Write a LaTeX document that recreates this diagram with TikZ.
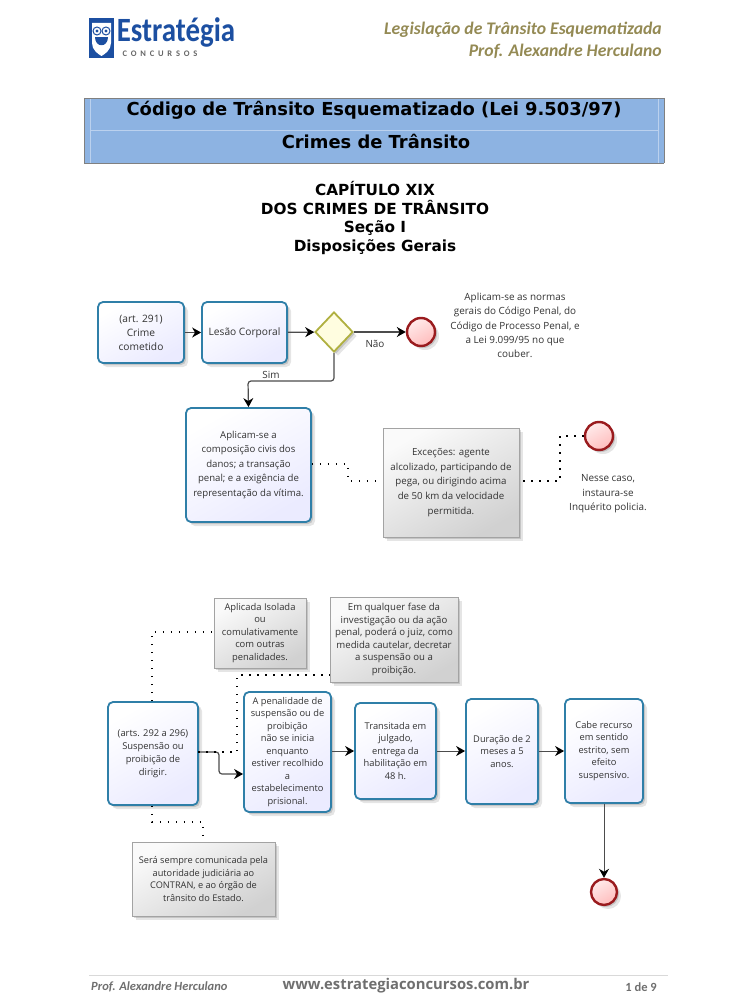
\documentclass[tikz,border=0pt]{standalone}
\usepackage{fontspec}
\setmainfont{Open Sans}
\newfontfamily\cabfont{Carlito}
\newfontfamily\titfont{DejaVu Sans}
\newfontfamily\logofont[LetterSpace=45]{Carlito}
\usetikzlibrary{calc,arrows.meta,shadows,shapes.geometric}
\definecolor{azul}{HTML}{2F7FA8}
\definecolor{faixa}{HTML}{8DB3E2}
\definecolor{oliva}{HTML}{948A54}
\definecolor{marca}{HTML}{1C4FA1}
\definecolor{rodape}{HTML}{6F6F6F}
\definecolor{texto}{HTML}{333333}
\definecolor{borda}{HTML}{A3A3A3}
\definecolor{verm}{HTML}{9A1B1E}
\definecolor{ouro}{HTML}{B0B040}

\begin{document}
\begin{tikzpicture}[
    x=1pt, y=-1pt,
    sombra/.style={drop shadow={shadow xshift=4pt, shadow yshift=-4pt, opacity=.10, fill=black},
                   drop shadow={shadow xshift=2pt, shadow yshift=-2pt, opacity=.14, fill=black}},
    caixa/.style={rectangle, rounded corners=5pt, draw=azul, line width=1.8pt, sombra,
                  top color=white, bottom color=white!92!blue, shading angle=30,
                  inner sep=0pt, align=center, text=texto, font=\fontsize{10.2}{14}\selectfont},
    etapa/.style={caixa, font=\fontsize{9.3}{12.5}\selectfont},
    nota/.style={rectangle, draw=borda, line width=.9pt, sombra,
                 top color=white!98!black, bottom color=white!82!black, shading angle=30,
                 inner sep=0pt, align=center, text=texto, font=\fontsize{9.7}{14.6}\selectfont},
    fim/.style={circle, draw=verm, line width=2.4pt, sombra, inner sep=0pt,
                top color=white!92!red, bottom color=white!74!red, shading angle=30},
    decisao/.style={diamond, draw=ouro, line width=1.8pt, fill=yellow!12, sombra, inner sep=0pt,
                    minimum width=38pt, minimum height=40pt},
    livre/.style={align=center, text=texto, inner sep=0pt, font=\fontsize{9.9}{14.4}\selectfont},
    fluxo/.style={draw=black!70, line width=1.2pt, -{Stealth[length=9pt, width=10pt, black]}},
    pontos/.style={draw=black, line width=1.5pt, dash pattern=on 1.5pt off 6.5pt},
    capitulo/.style={font=\titfont\bfseries\fontsize{15.3}{18.4}\selectfont, align=center, inner sep=0pt},
    titulo/.style={font=\titfont\bfseries\fontsize{17.9}{20}\selectfont, inner sep=0pt},
    cabec/.style={font=\cabfont\bfseries\itshape\fontsize{17.7}{21}\selectfont, text=oliva, inner sep=0pt},
  ]
  \useasboundingbox (0,0) rectangle (750,1006);

  % Logotipo
  \fill[marca] (89,18) rectangle (114,58);
  \fill[white] (92,23) -- (111,23) -- (111,43) .. controls (111,50) and (105,54) .. (101.5,56)
    .. controls (98,54) and (92,50) .. (92,43) -- cycle;
  \fill[marca] (95,37) .. controls (95,48) and (108,48) .. (108,37) -- cycle;
  \foreach \x in {97,106} \filldraw[fill=white, draw=marca, line width=1pt] (\x,31) circle (4);
  \foreach \x in {97,106} \fill[marca] (\x,31) circle (1.6);
  \node[inner sep=0pt, text=marca, xscale=.85, font=\cabfont\bfseries\fontsize{34}{34}\selectfont] (logo) at (176,32) {Estratégia};
  \node[inner sep=0pt, text=black!60, font=\logofont\bfseries\fontsize{8.5}{8.5}\selectfont] (conc) at (160,54) {CONCURSOS};

  % Cabeçalho
  \node[cabec, anchor=east] (cab1) at (662,30) {Legislação de Trânsito Esquematizada};
  \node[cabec, anchor=east] (cab2) at (662,51) {Prof. Alexandre Herculano};

  % Faixa do título
  \fill[faixa] (84,98) rectangle (664,163);
  \draw[white!40!faixa, line width=.6pt] (90,130) -- (658,130) (90,98) -- (90,163) (658,98) -- (658,163);
  \draw[black!50, line width=.9pt] (84,98) -- (664,98) (84,98) -- (84,163) -- (664,163) (664,98) -- (664,163);
  \node[titulo] (tit1) at (374,110) {Código de Trânsito Esquematizado (Lei 9.503/97)};
  \node[titulo] (tit2) at (376,141) {Crimes de Trânsito};

  \node[capitulo] (cap) at (375,218) {CAPÍTULO XIX\\DOS CRIMES DE TRÂNSITO\\Seção I\\Disposições Gerais};

  % Primeiro fluxo
  \node[caixa, minimum width=86pt, minimum height=61pt] (art) at (141,332.5) {(art. 291)\\Crime\\cometido};
  \node[caixa, minimum width=85pt, minimum height=61pt] (lesao) at (244.5,332.5) {Lesão Corporal};
  \node[decisao] (dec) at (334,332) {};
  \node[fim, minimum size=28pt] (fim1) at (421,332) {};
  \node[caixa, minimum width=125pt, minimum height=114pt, font=\fontsize{9.6}{14.5}\selectfont] (aplic) at (248.5,465) {Aplicam-se a\\composição civis dos\\danos; a transação\\penal; e a exigência de\\representação da vítima.};
  \node[nota, minimum width=136pt, minimum height=109pt] (exc) at (451,482.5) {Exceções:  agente\\alcolizado, participando de\\pega, ou dirigindo acima\\de 50 km da velocidade\\permitida.};
  \node[fim, minimum size=28pt] (fim2) at (599,436) {};
  \node[livre] (normas) at (515,325.5) {Aplicam-se as normas\\gerais do Código Penal, do\\Código de Processo Penal, e\\a Lei 9.099/95 no que\\couber.};
  \node[livre] (inq) at (608,494) {Nesse caso,\\instaura-se\\Inquérito policia.};
  \node[livre] (sim) at (271,375) {Sim};
  \node[livre] (nao) at (375,344) {Não};

  \coordinate (c1) at (248,381);
  \coordinate (c2) at (348,464);
  \coordinate (c3) at (348,481);
  \coordinate (c4) at (560,481);
  \draw[fluxo] (art) -- (lesao);
  \draw[fluxo] (lesao) -- (dec);
  \draw[fluxo] (dec) -- (fim1);
  \draw[fluxo, rounded corners=3pt] (dec.south) |- (c1) -- (aplic.north);
  \draw[pontos] (aplic.east |- c2) -- (c2) -- (c3) -- (exc.west |- c3);
  \draw[pontos] (fim2.west) -| (c4) -- (exc.east |- c4);

  % Segundo fluxo
  \node[etapa, minimum width=90pt, minimum height=103pt, font=\fontsize{9.4}{13}\selectfont] (susp) at (153,753.5) {(arts. 292 a 296)\\Suspensão ou\\proibição de\\dirigir.};
  \node[etapa, minimum width=87pt, minimum height=120pt] (pena) at (287.5,752) {A penalidade de\\suspensão ou de\\proibição\\não se inicia\\enquanto\\estiver recolhido\\a\\estabelecimento\\prisional.};
  \node[etapa, minimum width=81pt, minimum height=96pt] (trans) at (395.5,751) {Transitada em\\julgado,\\entrega da\\habilitação em\\48 h.};
  \node[etapa, minimum width=72pt, minimum height=105pt] (dur) at (502,751.5) {Duração de 2\\meses a 5\\anos.};
  \node[etapa, minimum width=78pt, minimum height=104pt] (rec) at (604,751) {Cabe recurso\\em sentido\\estrito, sem\\efeito\\suspensivo.};
  \node[fim, minimum size=26pt] (fim3) at (604,892) {};
  \node[nota, minimum width=92pt, minimum height=70pt, font=\fontsize{9.4}{12.5}\selectfont] (isol) at (260,633) {Aplicada Isolada\\ou\\comulativamente\\com outras\\penalidades.};
  \node[nota, minimum width=128pt, minimum height=85pt, font=\fontsize{9.6}{12.6}\selectfont] (fase) at (394,639.5) {Em qualquer fase da\\investigação ou da ação\\penal, poderá o juiz, como\\medida cautelar, decretar\\a suspensão ou a\\proibição.};
  \node[nota, minimum width=143pt, minimum height=74pt, font=\fontsize{9.2}{12.8}\selectfont] (comun) at (203.5,879) {Será sempre comunicada pela\\autoridade judiciária ao\\CONTRAN, e ao órgão de\\trânsito do Estado.};

  \coordinate (d1) at (198,752);
  \coordinate (d2) at (219,774);
  \coordinate (d3) at (237,675);
  \coordinate (d4) at (152,632);
  \coordinate (d5) at (203,822);
  \draw[fluxo, line width=1pt] (pena.east |- trans) -- (trans);
  \draw[fluxo, line width=1pt] (trans) -- (dur.west |- trans);
  \draw[fluxo, line width=1pt] (dur.east |- trans) -- (rec.west |- trans);
  \draw[fluxo, line width=1pt] (rec) -- (fim3);
  \draw[fluxo, rounded corners=3pt] (d1) -| (d2) -- (pena.west |- d2);
  \draw[pontos] (d1) -| (d3) -- (fase.west |- d3);
  \draw[pontos] (susp.north -| d4) -- (d4) -- (isol.west |- d4);
  \draw[pontos] (susp.south -| d4) |- (d5) -- (comun.north -| d5);

  % Rodapé
  \draw[black!15, line width=.8pt] (89,975) -- (668,975);
  \node[inner sep=0pt, text=rodape, font=\cabfont\bfseries\itshape\fontsize{12.5}{14}\selectfont, anchor=west] (prof) at (91,987) {Prof. Alexandre Herculano};
  \node[inner sep=0pt, text=rodape, font=\bfseries\fontsize{14.8}{18}\selectfont] (site) at (406,986) {www.estrategiaconcursos.com.br};
  \node[inner sep=0pt, text=rodape, font=\cabfont\bfseries\fontsize{12.5}{14}\selectfont, anchor=east] (pag) at (657,987) {1 de 9};
\end{tikzpicture}
\end{document}
